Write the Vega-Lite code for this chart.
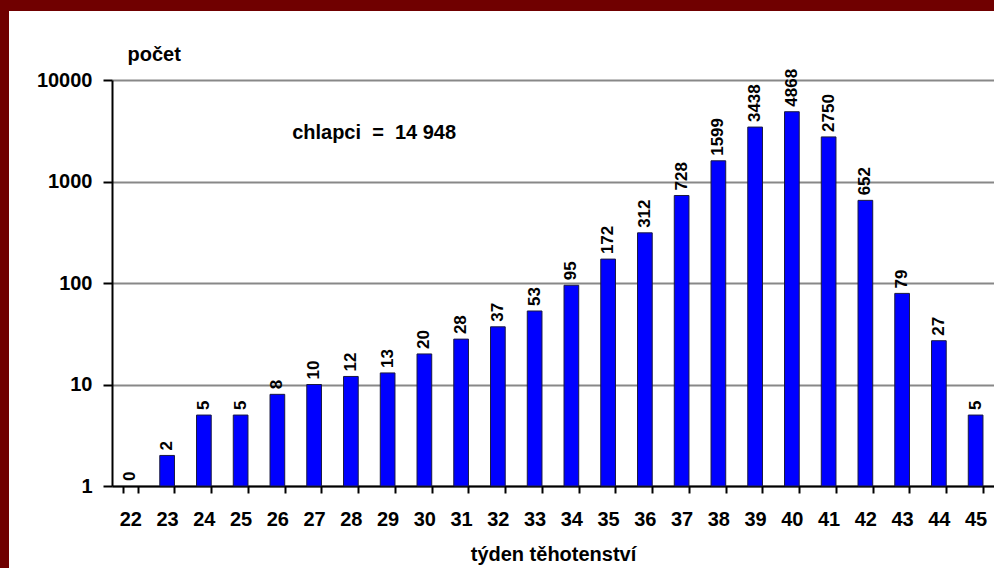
{
  "$schema": "https://vega.github.io/schema/vega-lite/v6.json",
  "background": "white",
  "padding": 0,
  "bounds": "flush",
  "spacing": 0,
  "config": {
    "view": {"stroke": null},
    "font": "Liberation Sans"
  },
  "datasets": {
    "births": [
      {"week": 22, "count": 0},
      {"week": 23, "count": 2},
      {"week": 24, "count": 5},
      {"week": 25, "count": 5},
      {"week": 26, "count": 8},
      {"week": 27, "count": 10},
      {"week": 28, "count": 12},
      {"week": 29, "count": 13},
      {"week": 30, "count": 20},
      {"week": 31, "count": 28},
      {"week": 32, "count": 37},
      {"week": 33, "count": 53},
      {"week": 34, "count": 95},
      {"week": 35, "count": 172},
      {"week": 36, "count": 312},
      {"week": 37, "count": 728},
      {"week": 38, "count": 1599},
      {"week": 39, "count": 3438},
      {"week": 40, "count": 4868},
      {"week": 41, "count": 2750},
      {"week": 42, "count": 652},
      {"week": 43, "count": 79},
      {"week": 44, "count": 27},
      {"week": 45, "count": 5}
    ]
  },
  "vconcat": [
    {
      "width": 994,
      "height": 11,
      "view": {"fill": "#700000", "stroke": null},
      "data": {"values": [{}]},
      "mark": {"type": "point", "opacity": 0}
    },
    {
      "hconcat": [
        {
          "width": 9,
          "height": 557,
          "view": {"fill": "#700000", "stroke": null},
          "data": {"values": [{}]},
          "mark": {"type": "point", "opacity": 0}
        },
        {
          "vconcat": [
            {
              "width": 882,
              "height": 1,
              "data": {"values": [{}]},
              "mark": {"type": "point", "opacity": 0}
            },
            {
              "width": 882,
              "height": 406,
              "data": {"name": "births"},
              "encoding": {
                "x": {
                  "field": "week",
                  "type": "ordinal",
                  "scale": {"paddingInner": 0.6, "paddingOuter": 0.3},
                  "axis": {
                    "title": "týden těhotenství",
                    "labelAngle": 0,
                    "labelFont": "Liberation Sans",
                    "labelFontSize": 20,
                    "labelFontWeight": "bold",
                    "labelColor": "black",
                    "labelPadding": 16,
                    "tickBand": "extent",
                    "tickSize": 7,
                    "tickWidth": 2,
                    "tickColor": "black",
                    "domainColor": "black",
                    "domainWidth": 2,
                    "grid": false,
                    "titleFont": "Liberation Sans",
                    "titleFontSize": 20,
                    "titleFontWeight": "bold",
                    "titleColor": "black",
                    "titlePadding": 15
                  }
                }
              },
              "layer": [
                {
                  "transform": [{"filter": "datum.count > 0"}],
                  "mark": {"type": "bar", "color": "#0000ff", "stroke": "#1a1a40", "strokeWidth": 1},
                  "encoding": {
                    "y": {
                      "field": "count",
                      "type": "quantitative",
                      "scale": {"type": "log", "domain": [1, 10000], "nice": false},
                      "axis": {
                        "values": [1, 10, 100, 1000, 10000],
                        "format": "d",
                        "title": "počet",
                        "titleAngle": 0,
                        "titleAlign": "left",
                        "titleBaseline": "alphabetic",
                        "titleX": 15,
                        "titleY": -20,
                        "titleFont": "Liberation Sans",
                        "titleFontSize": 20,
                        "titleFontWeight": "bold",
                        "titleColor": "black",
                        "labelFont": "Liberation Sans",
                        "labelFontSize": 20,
                        "labelFontWeight": "bold",
                        "labelColor": "black",
                        "labelPadding": 11,
                        "tickSize": 9,
                        "tickWidth": 2,
                        "tickColor": "black",
                        "domainColor": "black",
                        "domainWidth": 2,
                        "grid": true,
                        "gridColor": "#888888",
                        "gridWidth": 2
                      }
                    },
                    "y2": {"datum": 1}
                  }
                },
                {
                  "transform": [{"filter": "datum.count > 0"}],
                  "mark": {"type": "text", "angle": 270, "align": "left", "baseline": "middle", "dx": 5, "font": "Liberation Sans", "fontSize": 17, "fontWeight": "bold", "color": "black"},
                  "encoding": {
                    "y": {"field": "count", "type": "quantitative"},
                    "text": {"field": "count", "type": "quantitative", "format": "d"}
                  }
                },
                {
                  "transform": [{"filter": "datum.count == 0"}],
                  "mark": {"type": "text", "angle": 270, "align": "left", "baseline": "middle", "dx": 5, "font": "Liberation Sans", "fontSize": 17, "fontWeight": "bold", "color": "black"},
                  "encoding": {
                    "y": {"datum": 1},
                    "text": {"field": "count", "type": "quantitative", "format": "d"}
                  }
                },
                {
                  "data": {"values": [{"label": "chlapci\u00a0 =\u00a0 14 948"}]},
                  "mark": {"type": "text", "align": "left", "baseline": "alphabetic", "dx": -22, "font": "Liberation Sans", "fontSize": 20, "fontWeight": "bold", "color": "black"},
                  "encoding": {
                    "x": {"datum": 27},
                    "y": {"datum": 2600},
                    "text": {"field": "label"}
                  }
                }
              ]
            }
          ],
          "spacing": 68,
          "bounds": "flush"
        }
      ],
      "spacing": 103,
      "bounds": "flush"
    }
  ]
}
